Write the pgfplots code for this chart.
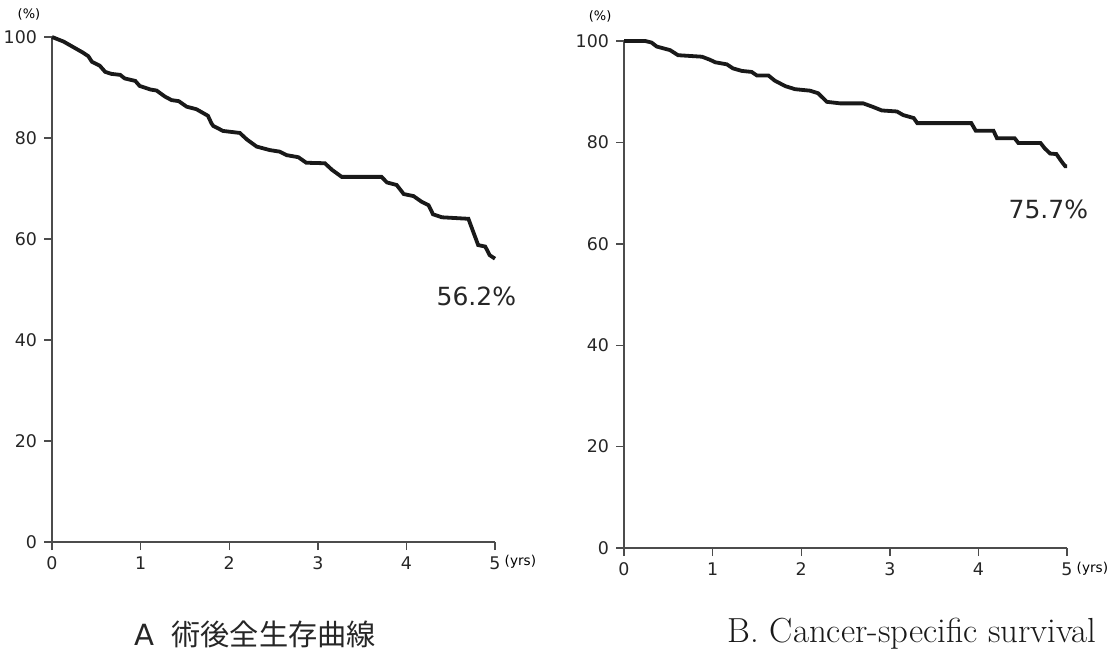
\documentclass[border=0pt]{standalone}
\usepackage{fontspec}
\usepackage{pgfplots}
\pgfplotsset{compat=1.18}
\newfontfamily\verd{DejaVu Sans}
\newfontfamily\cjk{Noto Sans CJK JP}
\begin{document}
\begin{tikzpicture}[x=1pt,y=1pt]
\useasboundingbox (0,0) rectangle (556.5,-326);
\pgfplotsset{km/.style={scale only axis, width=221.5pt, xmin=0,xmax=5,ymin=0,ymax=100,
  axis lines=left, axis line style={black!70, line width=0.7pt, -},
  tick align=outside, major tick length=4pt, tick style={black!70, line width=0.7pt},
  xtick={0,...,5}, ytick={0,20,...,100},
  ticklabel style={font=\verd\fontsize{8.7}{10}\selectfont, text=black!85},
  /pgf/number format/assume math mode=true, clip=false, anchor=south west}}
\begin{axis}[km, height=252.5pt, at={(26pt,-271pt)}]
\addplot[sharp plot, line width=1.9pt, black!90, line join=miter] coordinates {
(0,100) (0.13,99.1) (0.24,98.0) (0.35,96.9) (0.41,96.2) (0.45,95.1) (0.54,94.3)
(0.60,93.1) (0.67,92.7) (0.77,92.5) (0.82,91.8) (0.94,91.3) (0.99,90.3) (1.11,89.6)
(1.18,89.4) (1.275,88.2) (1.35,87.5) (1.43,87.3) (1.52,86.2) (1.63,85.7) (1.70,85.0)
(1.76,84.4) (1.80,82.9) (1.82,82.4) (1.93,81.4) (2.12,81.0) (2.20,79.7) (2.31,78.3)
(2.46,77.6) (2.57,77.3) (2.65,76.6) (2.78,76.2) (2.87,75.1) (3.08,75.0) (3.16,73.7)
(3.27,72.3) (3.72,72.3) (3.78,71.2) (3.89,70.7) (3.97,68.9) (4.08,68.5) (4.17,67.4)
(4.25,66.7) (4.30,64.9) (4.40,64.3) (4.70,64.0) (4.74,62.1) (4.81,58.8) (4.89,58.5)
(4.94,56.8) (5.0,56.1)};
\node[font=\verd\fontsize{12.5}{14}\selectfont, text=black!85] at (axis cs:4.79,48.7) {56.2\%};
\node[font=\verd\fontsize{6.5}{8}\selectfont] at (axis cs:-0.26,104.4) {(\%)};
\node[anchor=west, font=\verd\fontsize{6.8}{8}\selectfont] at (axis cs:5.03,-4.0) {(yrs)};
\end{axis}
\begin{axis}[km, height=253.5pt, at={(312pt,-274pt)}]
\addplot[sharp plot, line width=1.9pt, black!90, line join=miter] coordinates {
(0,100) (0.24,100) (0.31,99.7) (0.37,98.9) (0.52,98.2) (0.61,97.2) (0.88,96.9)
(0.97,96.3) (1.03,95.8) (1.16,95.4) (1.23,94.6) (1.33,94.1) (1.44,93.9) (1.50,93.2)
(1.63,93.2) (1.70,92.2) (1.82,91.1) (1.93,90.5) (2.10,90.2) (2.19,89.7) (2.29,88.0)
(2.44,87.7) (2.70,87.7) (2.81,87.0) (2.91,86.3) (3.08,86.1) (3.15,85.4) (3.27,84.8)
(3.31,83.8) (3.92,83.8) (3.97,82.3) (4.17,82.3) (4.21,80.8) (4.41,80.8) (4.45,79.9)
(4.70,79.9) (4.75,78.8) (4.81,77.8) (4.88,77.7) (4.94,76.2) (4.98,75.3) (5.0,75.3)};
\node[font=\verd\fontsize{12.5}{14}\selectfont, text=black!85] at (axis cs:4.79,66.7) {75.7\%};
\node[font=\verd\fontsize{6.5}{8}\selectfont] at (axis cs:-0.27,104.8) {(\%)};
\node[anchor=west, font=\verd\fontsize{6.8}{8}\selectfont] at (axis cs:5.03,-4.0) {(yrs)};
\end{axis}
\node[font=\fontsize{14.6}{17}\selectfont, text=black!85] at (127.5,-317) {{\verd A}\hspace{0.6em}{\cjk 術後全生存曲線}};
\node[font=\fontsize{17.4}{20}\selectfont, text=black!90] at (456,-317) {B. Cancer-specific survival};
\end{tikzpicture}
\end{document}
